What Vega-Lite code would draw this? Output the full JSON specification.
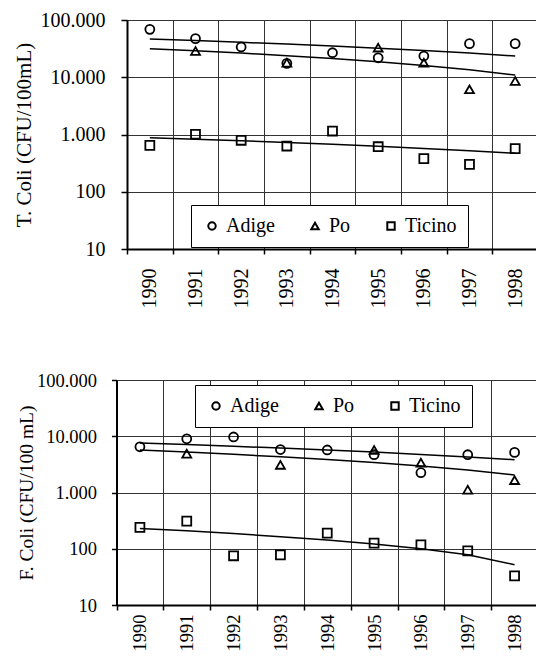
{
  "$schema": "https://vega.github.io/schema/vega-lite/v6.json",
  "padding": {"left": 13, "top": 10, "right": 0, "bottom": 0},
  "spacing": 63,
  "config": {
    "view": {"stroke": null},
    "font": "Liberation Serif",
    "legend": {"labelFont": "Liberation Serif"},
    "axis": {"labelFont": "Liberation Serif", "titleFont": "Liberation Serif", "titleFontWeight": "normal", "labelColor": "black", "titleColor": "black", "domainColor": "black", "tickColor": "black", "gridColor": "#333", "gridOpacity": 1, "domainWidth": 2, "tickWidth": 1.5}
  },
  "datasets": {
    "tpts": [
      {"year": 1990, "river": "Adige", "v": 68700},
      {"year": 1991, "river": "Adige", "v": 47200},
      {"year": 1992, "river": "Adige", "v": 33800},
      {"year": 1993, "river": "Adige", "v": 17500},
      {"year": 1994, "river": "Adige", "v": 26800},
      {"year": 1995, "river": "Adige", "v": 21900},
      {"year": 1996, "river": "Adige", "v": 23500},
      {"year": 1997, "river": "Adige", "v": 38600},
      {"year": 1998, "river": "Adige", "v": 38600},
      {"year": 1991, "river": "Po", "v": 28700},
      {"year": 1993, "river": "Po", "v": 17900},
      {"year": 1995, "river": "Po", "v": 32900},
      {"year": 1996, "river": "Po", "v": 17900},
      {"year": 1997, "river": "Po", "v": 6150},
      {"year": 1998, "river": "Po", "v": 8600},
      {"year": 1990, "river": "Ticino", "v": 647},
      {"year": 1991, "river": "Ticino", "v": 1010},
      {"year": 1992, "river": "Ticino", "v": 792},
      {"year": 1993, "river": "Ticino", "v": 629},
      {"year": 1994, "river": "Ticino", "v": 1150},
      {"year": 1995, "river": "Ticino", "v": 612},
      {"year": 1996, "river": "Ticino", "v": 378},
      {"year": 1997, "river": "Ticino", "v": 301},
      {"year": 1998, "river": "Ticino", "v": 565}
    ],
    "ttrend": [
      {"year": 1990, "river": "Adige", "v": 46600},
      {"year": 1991, "river": "Adige", "v": 43700},
      {"year": 1992, "river": "Adige", "v": 40800},
      {"year": 1993, "river": "Adige", "v": 37900},
      {"year": 1994, "river": "Adige", "v": 35000},
      {"year": 1995, "river": "Adige", "v": 32200},
      {"year": 1996, "river": "Adige", "v": 29300},
      {"year": 1997, "river": "Adige", "v": 26400},
      {"year": 1998, "river": "Adige", "v": 23500},
      {"year": 1990, "river": "Po", "v": 31600},
      {"year": 1991, "river": "Po", "v": 29000},
      {"year": 1992, "river": "Po", "v": 26400},
      {"year": 1993, "river": "Po", "v": 23800},
      {"year": 1994, "river": "Po", "v": 21300},
      {"year": 1995, "river": "Po", "v": 18700},
      {"year": 1996, "river": "Po", "v": 16100},
      {"year": 1997, "river": "Po", "v": 13500},
      {"year": 1998, "river": "Po", "v": 10900},
      {"year": 1990, "river": "Ticino", "v": 880},
      {"year": 1991, "river": "Ticino", "v": 829},
      {"year": 1992, "river": "Ticino", "v": 778},
      {"year": 1993, "river": "Ticino", "v": 726},
      {"year": 1994, "river": "Ticino", "v": 675},
      {"year": 1995, "river": "Ticino", "v": 624},
      {"year": 1996, "river": "Ticino", "v": 572},
      {"year": 1997, "river": "Ticino", "v": 521},
      {"year": 1998, "river": "Ticino", "v": 470}
    ],
    "fpts": [
      {"year": 1990, "river": "Adige", "v": 6500},
      {"year": 1991, "river": "Adige", "v": 9000},
      {"year": 1992, "river": "Adige", "v": 9700},
      {"year": 1993, "river": "Adige", "v": 5800},
      {"year": 1994, "river": "Adige", "v": 5700},
      {"year": 1995, "river": "Adige", "v": 4700},
      {"year": 1996, "river": "Adige", "v": 2250},
      {"year": 1997, "river": "Adige", "v": 4690},
      {"year": 1998, "river": "Adige", "v": 5160},
      {"year": 1991, "river": "Po", "v": 4900},
      {"year": 1993, "river": "Po", "v": 3100},
      {"year": 1995, "river": "Po", "v": 5700},
      {"year": 1996, "river": "Po", "v": 3400},
      {"year": 1997, "river": "Po", "v": 1120},
      {"year": 1998, "river": "Po", "v": 1660},
      {"year": 1990, "river": "Ticino", "v": 240},
      {"year": 1991, "river": "Ticino", "v": 310},
      {"year": 1992, "river": "Ticino", "v": 75},
      {"year": 1993, "river": "Ticino", "v": 78},
      {"year": 1994, "river": "Ticino", "v": 190},
      {"year": 1995, "river": "Ticino", "v": 126},
      {"year": 1996, "river": "Ticino", "v": 117},
      {"year": 1997, "river": "Ticino", "v": 92},
      {"year": 1998, "river": "Ticino", "v": 33}
    ],
    "ftrend": [
      {"year": 1990, "river": "Adige", "v": 7570},
      {"year": 1991, "river": "Adige", "v": 7100},
      {"year": 1992, "river": "Adige", "v": 6630},
      {"year": 1993, "river": "Adige", "v": 6160},
      {"year": 1994, "river": "Adige", "v": 5690},
      {"year": 1995, "river": "Adige", "v": 5230},
      {"year": 1996, "river": "Adige", "v": 4760},
      {"year": 1997, "river": "Adige", "v": 4290},
      {"year": 1998, "river": "Adige", "v": 3820},
      {"year": 1990, "river": "Po", "v": 5680},
      {"year": 1991, "river": "Po", "v": 5230},
      {"year": 1992, "river": "Po", "v": 4770},
      {"year": 1993, "river": "Po", "v": 4320},
      {"year": 1994, "river": "Po", "v": 3860},
      {"year": 1995, "river": "Po", "v": 3410},
      {"year": 1996, "river": "Po", "v": 2950},
      {"year": 1997, "river": "Po", "v": 2500},
      {"year": 1998, "river": "Po", "v": 2050},
      {"year": 1990, "river": "Ticino", "v": 230},
      {"year": 1991, "river": "Ticino", "v": 208},
      {"year": 1992, "river": "Ticino", "v": 186},
      {"year": 1993, "river": "Ticino", "v": 164},
      {"year": 1994, "river": "Ticino", "v": 143},
      {"year": 1995, "river": "Ticino", "v": 122},
      {"year": 1996, "river": "Ticino", "v": 100},
      {"year": 1997, "river": "Ticino", "v": 78},
      {"year": 1998, "river": "Ticino", "v": 52}
    ]
  },
  "resolve": {"scale": {"x": "independent", "y": "independent", "shape": "independent"}, "legend": {"shape": "independent"}},
  "vconcat": [
    {
      "width": 411,
      "height": 229,
      "layer": [
        {
          "data": {"name": "ttrend"},
          "mark": {"type": "line", "color": "black", "strokeWidth": 1.5},
          "encoding": {
            "x": {"field": "year", "type": "ordinal"},
            "y": {"field": "v", "type": "quantitative"},
            "detail": {"field": "river"}
          }
        },
        {
          "data": {"name": "tpts"},
          "mark": {"type": "point", "filled": false, "color": "black", "strokeWidth": 1.8, "size": 80, "opacity": 1},
          "encoding": {
            "x": {"field": "year", "type": "ordinal",
              "scale": {"type": "band", "domain": [1990,1991,1992,1993,1994,1995,1996,1997,1998], "paddingInner": 0, "paddingOuter": 0},
              "axis": {"title": null, "labelAngle": -90, "labelFontSize": 20, "labelPadding": 14, "tickBand": "extent", "grid": true, "tickSize": 5}},
            "y": {"field": "v", "type": "quantitative",
              "scale": {"type": "log", "domain": [10, 100000]},
              "axis": {"title": "T. Coli (CFU/100mL)", "titleFontSize": 21, "titlePadding": 6, "values": [10, 100, 1000, 10000, 100000], "labelExpr": "datum.value >= 1000 ? format(datum.value / 1000, 'd') + '.000' : format(datum.value, 'd')", "labelFontSize": 20, "labelPadding": 16, "tickSize": 6, "grid": true}},
            "shape": {"field": "river", "type": "nominal",
              "scale": {"domain": ["Adige", "Po", "Ticino"], "range": ["circle", "triangle-up", "square"]},
              "legend": {"orient": "none", "legendX": 64, "legendY": 185, "direction": "horizontal", "title": null, "strokeColor": "black", "fillColor": "white", "padding": 11, "labelFontSize": 20, "labelColor": "black", "symbolSize": 55, "symbolStrokeWidth": 2, "symbolStrokeColor": "black", "columnPadding": 30, "labelOffset": 4}}
          }
        }
      ]
    },
    {
      "width": 411,
      "height": 225,
      "layer": [
        {
          "data": {"name": "ftrend"},
          "mark": {"type": "line", "color": "black", "strokeWidth": 1.5},
          "encoding": {
            "x": {"field": "year", "type": "ordinal"},
            "y": {"field": "v", "type": "quantitative"},
            "detail": {"field": "river"}
          }
        },
        {
          "data": {"name": "fpts"},
          "mark": {"type": "point", "filled": false, "color": "black", "strokeWidth": 1.8, "size": 80, "opacity": 1},
          "encoding": {
            "x": {"field": "year", "type": "ordinal",
              "scale": {"type": "band", "domain": [1990,1991,1992,1993,1994,1995,1996,1997,1998], "paddingInner": 0, "paddingOuter": 0, "range": [-10.5, 411]},
              "axis": {"title": null, "labelAngle": -90, "labelFontSize": 18.5, "labelPadding": 4, "tickBand": "extent", "grid": true, "tickSize": 5}},
            "y": {"field": "v", "type": "quantitative",
              "scale": {"type": "log", "domain": [10, 100000]},
              "axis": {"title": "F. Coli (CFU/100 mL)", "titleFontSize": 19.5, "titlePadding": 0, "offset": 10.5, "values": [10, 100, 1000, 10000, 100000], "labelExpr": "datum.value >= 1000 ? format(datum.value / 1000, 'd') + '.000' : format(datum.value, 'd')", "labelFontSize": 18.5, "labelPadding": 15, "tickSize": 5, "grid": true}},
            "shape": {"field": "river", "type": "nominal",
              "scale": {"domain": ["Adige", "Po", "Ticino"], "range": ["circle", "triangle-up", "square"]},
              "legend": {"orient": "none", "legendX": 68, "legendY": 5, "direction": "horizontal", "title": null, "strokeColor": "black", "fillColor": "white", "padding": 11, "labelFontSize": 20, "labelColor": "black", "symbolSize": 55, "symbolStrokeWidth": 2, "symbolStrokeColor": "black", "columnPadding": 30, "labelOffset": 4}}
          }
        }
      ]
    }
  ]
}
